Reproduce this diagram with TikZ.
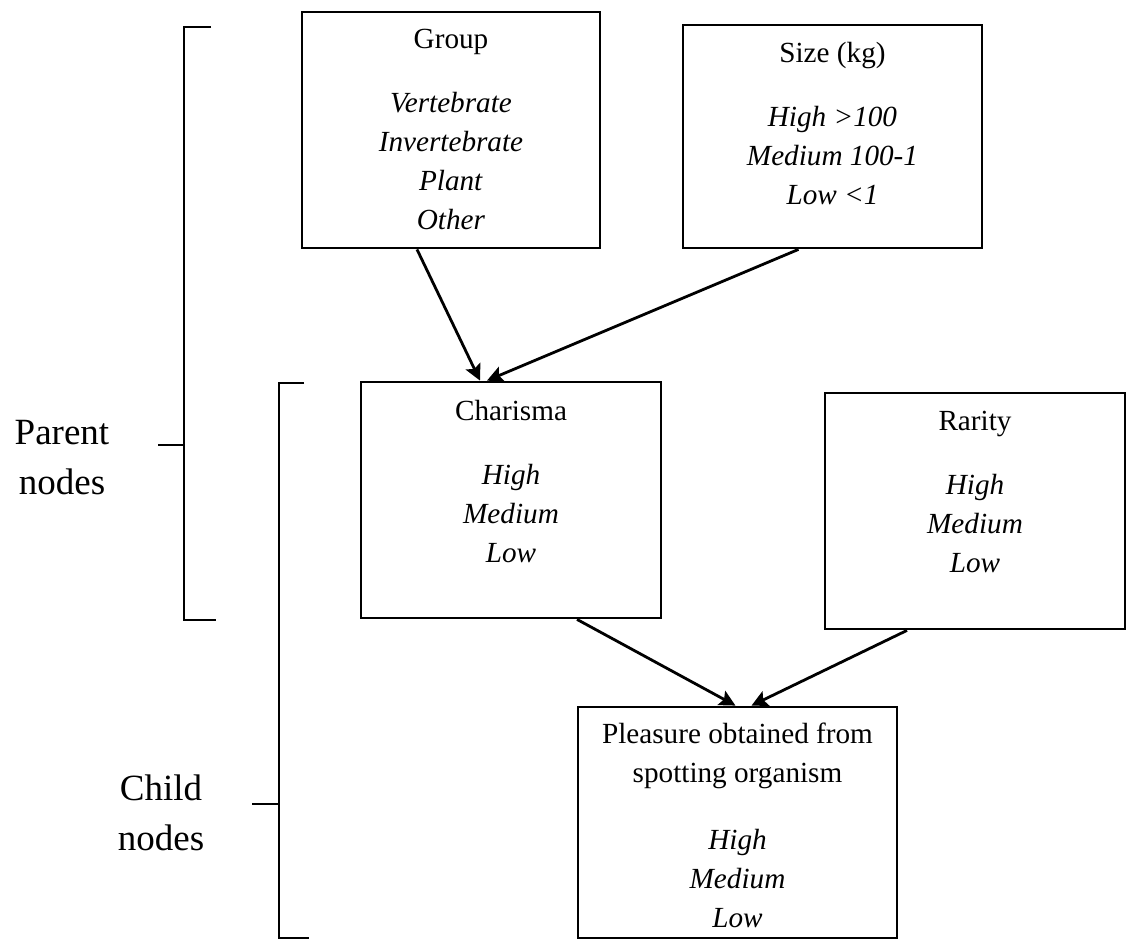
\documentclass[tikz,border=0pt]{standalone}
\usepackage{fontspec}
\setmainfont{Liberation Serif}
\usetikzlibrary{arrows.meta, positioning}
\tikzset{every node/.style={font=\fontsize{14.6}{19.5}\selectfont}}

\begin{document}
\begin{tikzpicture}[x=0.5pt,y=-0.5pt,>={Stealth[length=8pt,width=8pt,inset=1.5pt]},
                box/.style={draw=black,minimum width=150pt,minimum height=118pt,inner sep=0pt},
                txt/.style={align=center,inner sep=0pt,anchor=north},
                side/.style={align=center,inner sep=0pt,anchor=north,font=\fontsize{18.5}{25}\selectfont},
                black,line width=1.4pt]
                \useasboundingbox (0,0) rectangle (1131,940);
                % parent nodes
                \node[box,minimum width=149pt] (group) at (451,130) {};
                \node[box,minimum width=149.5pt,minimum height=111.5pt] (size) at (832.5,136.5) {};
                \node[box] (charisma) at (511,500) {};
                \node[box] (rarity) at (975,511) {};
                % child node
                \node[box,minimum width=159.5pt,minimum height=115.5pt] (pleasure) at (737.5,822.5) {};
                \node[txt] (grouptxt) at ([yshift=-8.5pt]group.north)
                {Group\\[12.5pt]\textit{Vertebrate}\\\textit{Invertebrate}\\\textit{Plant}\\\textit{Other}};
                \node[txt] (sizetxt) at ([yshift=-8.5pt]size.north)
                {Size (kg)\\[12.5pt]\textit{High >100}\\\textit{Medium 100-1}\\\textit{Low <1}};
                \node[txt] (charismatxt) at ([yshift=-9pt]charisma.north)
                {Charisma\\[12.5pt]\textit{High}\\\textit{Medium}\\\textit{Low}};
                \node[txt] (raritytxt) at ([yshift=-9pt]rarity.north)
                {Rarity\\[12.5pt]\textit{High}\\\textit{Medium}\\\textit{Low}};
                \node[txt] (pleasuretxt) at ([yshift=-8pt]pleasure.north)
                {Pleasure obtained from\\spotting organism\\[14pt]\textit{High}\\\textit{Medium}\\\textit{Low}};
                \draw[->] ([xshift=-17pt]group.south) -- ([xshift=-15.5pt]charisma.north);
                \draw[->] ([xshift=-17pt]size.south) -- ([xshift=-12pt]charisma.north);
                \draw[->] ([xshift=33pt]charisma.south) -- ([xshift=-1pt]pleasure.north);
                \draw[->] ([xshift=-34pt]rarity.south) -- ([xshift=7pt]pleasure.north);
                % brackets
                \draw (211,27) -- (184,27) -- (184,620) -- (216,620);
                \draw (158,445) -- (184,445);
                \draw (304,383) -- (279,383) -- (279,938) -- (309,938);
                \draw (252,804) -- (279,804);
                \node[side] (parentlbl) at (62,419) {Parent\\nodes};
                \node[side] (childlbl) at (161,773) {Child\\nodes};
            \end{tikzpicture}
\end{document}
